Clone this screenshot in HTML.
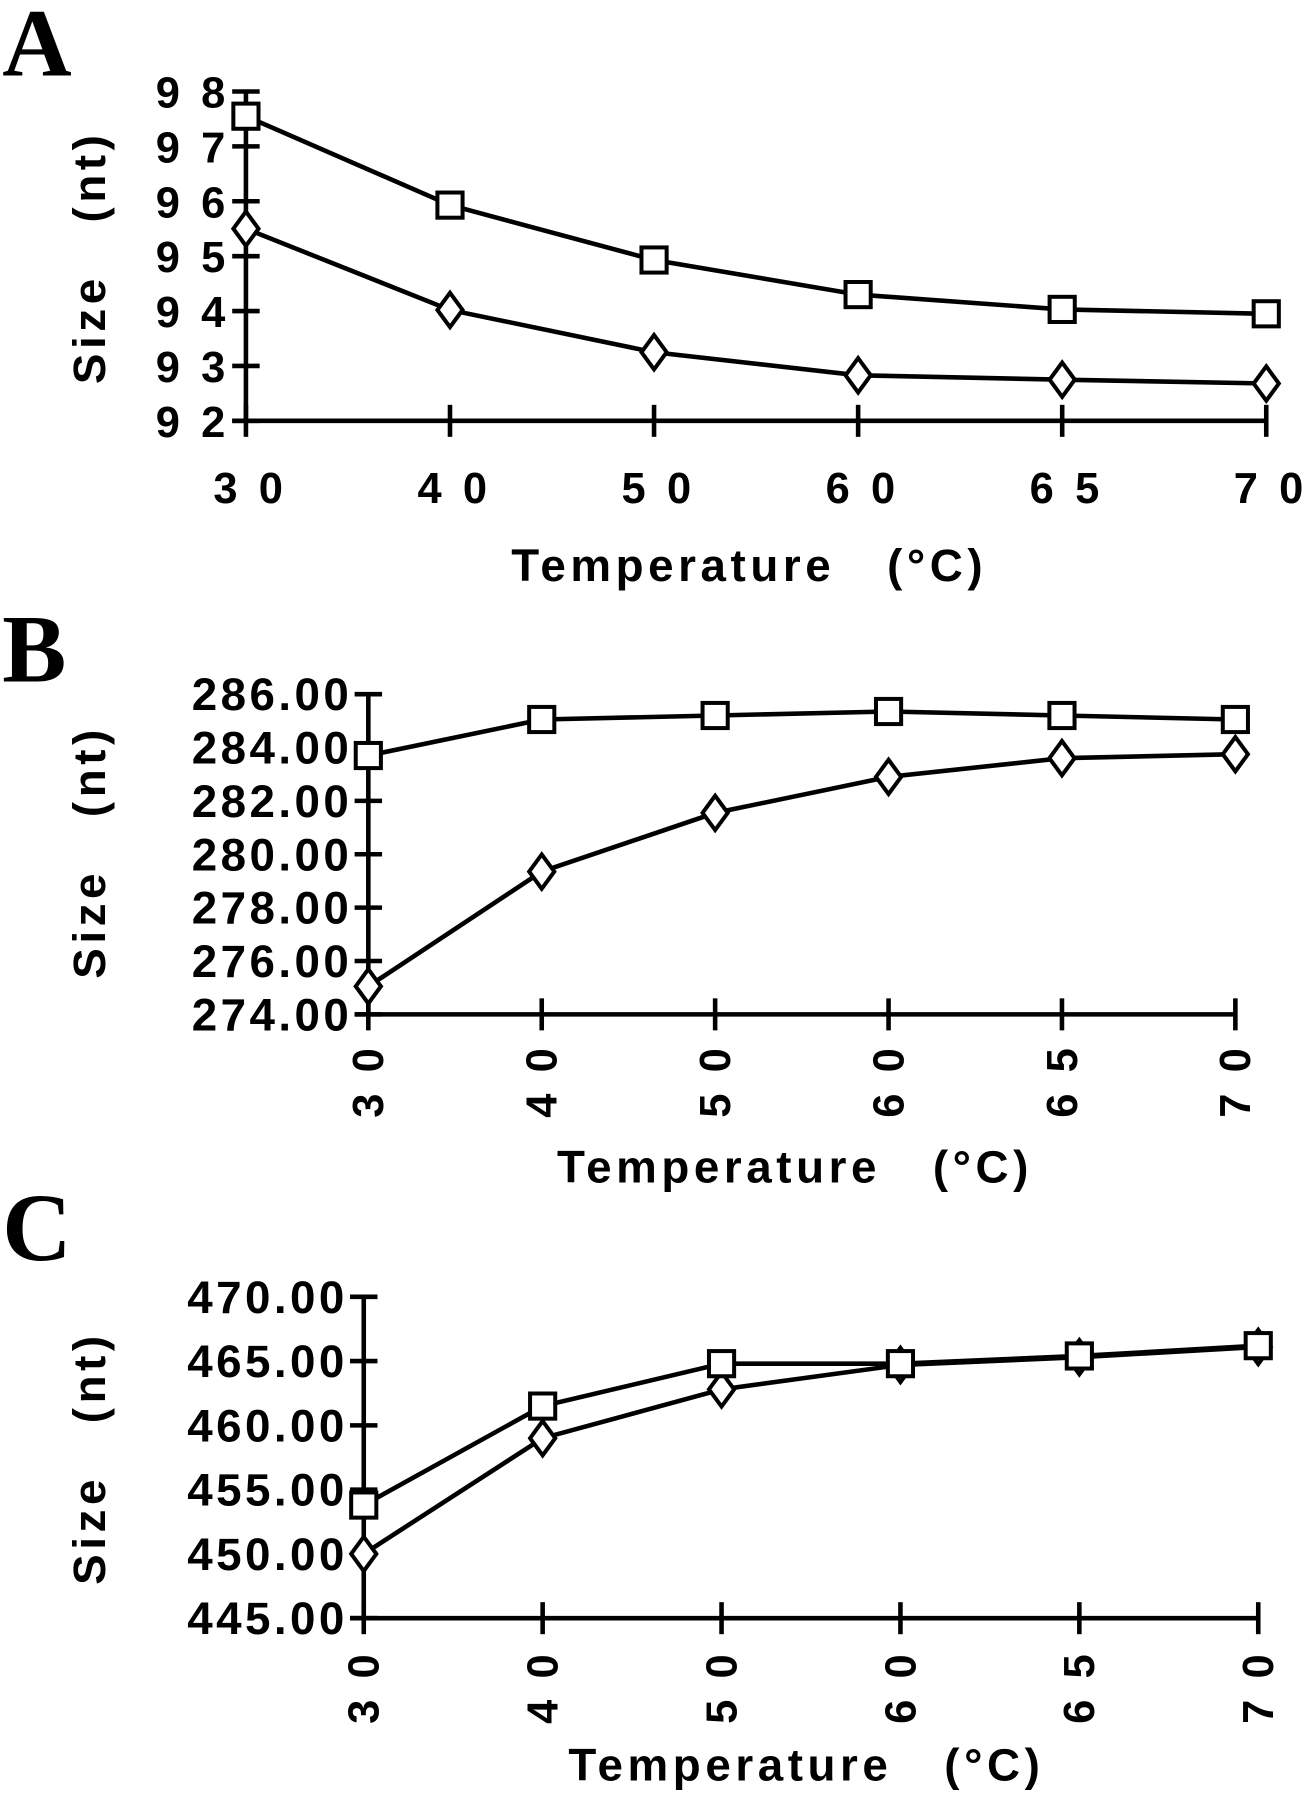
<!DOCTYPE html>
<html><head><meta charset="utf-8"><style>
html,body{margin:0;padding:0;background:#fff;}
svg{display:block;}
text{font-family:"Liberation Sans",Arial,sans-serif;font-weight:bold;fill:#000;}
.pl{font-family:"Liberation Serif",serif;font-weight:bold;font-size:84px;}
.tk{font-size:38px;letter-spacing:4px;}
.tkb{font-size:40px;letter-spacing:3px;}
.ti{font-size:40px;letter-spacing:4px;}
</style></head><body>
<svg id="fig" width="1304" height="1800" viewBox="0 0 1140 1574" preserveAspectRatio="none" xmlns="http://www.w3.org/2000/svg"></svg>
<script>
const categories = ["30","40","50","60","65","70"];
const aSquare = [97.55, 95.93, 94.93, 94.3, 94.03, 93.95];
const aDiamond = [95.5, 94.02, 93.25, 92.83, 92.75, 92.68];
const aTicks = ["9 8","9 7","9 6","9 5","9 4","9 3","9 2"];
const bSquare = [283.7, 285.05, 285.2, 285.35, 285.2, 285.05];
const bDiamond = [275.05, 279.35, 281.55, 282.9, 283.6, 283.75];
const bTicks = ["286.00","284.00","282.00","280.00","278.00","276.00","274.00"];
const cSquare = [453.8, 461.5, 464.8, 464.8, 465.4, 466.2];
const cDiamond = [450.0, 459.0, 462.8, 464.7, 465.3, 466.1];
const cTicks = ["470.00","465.00","460.00","455.00","450.00","445.00"];

const NS = "http://www.w3.org/2000/svg";
const svg = document.getElementById('fig');
function mk(tag, attrs, parent, txt){
  const e = document.createElementNS(NS, tag);
  for (const k in attrs) e.setAttribute(k, attrs[k]);
  if (txt !== undefined) e.textContent = txt;
  (parent || svg).appendChild(e);
  return e;
}
function panel(cfg){
  const g = mk('g', {});
  
  
  const n = categories.length;
  const xf = i => cfg.x0 + (cfg.x1 - cfg.x0) * i / (n - 1);
  const yf = v => cfg.y0 + (cfg.y1 - cfg.y0) * (v - cfg.vmin) / (cfg.vmax - cfg.vmin);
  const lab = mk('text', {x: 2, y: cfg.labY, class: 'pl'}, g, cfg.id.toUpperCase());
  
  
  const ya = mk('line', {x1: cfg.x0, x2: cfg.x0, y1: cfg.y1, y2: cfg.y0, stroke: '#000', 'stroke-width': 4}, g);
  
  
  const xa = mk('line', {x1: cfg.x0 - 12, x2: cfg.x1, y1: cfg.y0, y2: cfg.y0, stroke: '#000', 'stroke-width': 4}, g);
  
  
  const nt = cfg.ticks.length;
  cfg.ticks.forEach((t, i) => {
    const v = cfg.vmax - (cfg.vmax - cfg.vmin) * i / (nt - 1);
    const y = yf(v);
    mk('line', {x1: cfg.x0 - 12, x2: cfg.x0 + 12, y1: y, y2: y, stroke: '#000', 'stroke-width': 4}, g);
    const tl = mk('text', {x: cfg.x0 - 14, y: y + 14, class: cfg.tkc, 'text-anchor': 'end'}, g, t);
    
    
  });
  categories.forEach((c, i) => {
    const x = xf(i);
    mk('line', {x1: x, x2: x, y1: cfg.y0 - 14, y2: cfg.y0 + 14, stroke: '#000', 'stroke-width': 4}, g);
    let tl;
    if (cfg.rot) {
      tl = mk('text', {x: 0, y: 0, class: 'tk', 'text-anchor': 'middle', transform: `translate(${x + 13},${cfg.xlabY}) rotate(-90)`}, g, c.split('').join(' '));
    } else {
      tl = mk('text', {x: x + 4, y: cfg.xlabY, class: 'tk', 'text-anchor': 'middle'}, g, c.split('').join(' '));
    }
    
    
  });
  const xt = mk('text', {x: cfg.titleX, y: cfg.titleY, class: 'ti', 'text-anchor': 'middle'}, g, 'Temperature\u00a0\u00a0\u00a0(\u00b0C)');
  
  
  const yt = mk('text', {x: 0, y: 0, class: 'ti', 'text-anchor': 'middle', transform: `translate(92,${cfg.ytY}) rotate(-90)`}, g, 'Size\u00a0\u00a0\u00a0(nt)');
  
  
  [['diamond', cfg.dia], ['square', cfg.sq]].forEach(([kind, vals]) => {
    const pts = vals.map((v, i) => xf(i) + ',' + yf(v)).join(' ');
    const pl = mk('polyline', {points: pts, fill: 'none', stroke: '#000', 'stroke-width': 4}, g);
    
    
    vals.forEach((v, i) => {
      const x = xf(i), y = yf(v);
      let m;
      if (kind === 'square') m = mk('rect', {x: x - 11, y: y - 11, width: 22, height: 22, fill: '#fff', stroke: '#000', 'stroke-width': 3.5}, g);
      else m = mk('polygon', {points: `${x},${y-15} ${x+11},${y} ${x},${y+15} ${x-11},${y}`, fill: '#fff', stroke: '#000', 'stroke-width': 3.5}, g);
      
      
    });
  });
}
panel({id:'a', labY:66, x0:215, x1:1107, y0:368, y1:80, vmin:92, vmax:98, ticks:aTicks, tkc:'tk', sq:aSquare, dia:aDiamond, rot:false, xlabY:440, titleX:655, titleY:508, ytY:225});
panel({id:'b', labY:596, x0:322, x1:1080, y0:887, y1:607, vmin:274, vmax:286, ticks:bTicks, tkc:'tkb', sq:bSquare, dia:bDiamond, rot:true, xlabY:945, titleX:695, titleY:1034, ytY:745});
panel({id:'c', labY:1102, x0:318, x1:1100, y0:1415, y1:1134, vmin:445, vmax:470, ticks:cTicks, tkc:'tkb', sq:cSquare, dia:cDiamond, rot:true, xlabY:1475, titleX:705, titleY:1557, ytY:1275});
</script>
</body></html>
